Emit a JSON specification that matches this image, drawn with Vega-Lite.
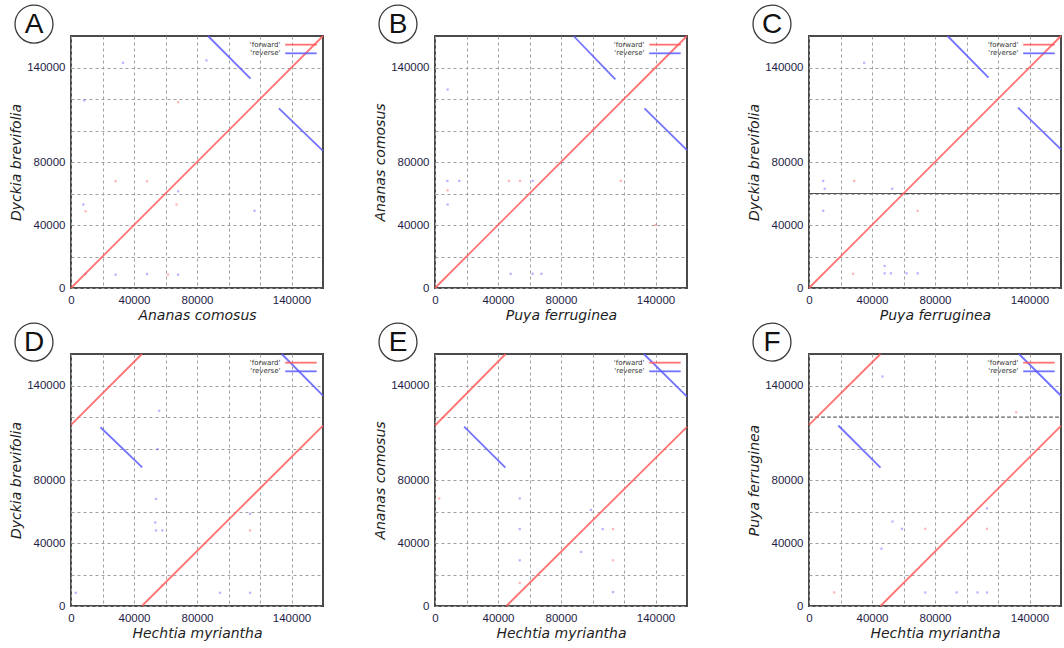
{
  "$schema": "https://vega.github.io/schema/vega-lite/v6.json",
  "autosize": {"type": "pad"},
  "padding": {"left": 8, "top": 1, "right": 0, "bottom": 0},
  "background": "white",
  "config": {
    "view": {"stroke": "#4a4a4a", "strokeWidth": 2},
    "axis": {
      "grid": true, "gridColor": "#a0a0a0", "gridDash": [3, 3], "gridWidth": 1,
      "domain": false, "ticks": false,
      "labelFont": "Liberation Sans", "labelFontSize": 11.5, "labelColor": "#1e1e46",
      "labelFlush": false, "labelOverlap": false, "labelPadding": 6,
      "titleFont": "DejaVu Sans", "titleFontSize": 14, "titleFontStyle": "italic", "titleFontWeight": "normal",
      "titleColor": "#1e1e1e", "titlePadding": 3
    }
  },
  "datasets": {
    "lines": [
      {"panel": "A", "seg": "f1", "strand": "forward", "x": 0, "y": 0},
      {"panel": "A", "seg": "f1", "strand": "forward", "x": 160000, "y": 160000},
      {"panel": "A", "seg": "r1", "strand": "reverse", "x": 87000, "y": 160000},
      {"panel": "A", "seg": "r1", "strand": "reverse", "x": 114000, "y": 133000},
      {"panel": "A", "seg": "r2", "strand": "reverse", "x": 132000, "y": 114000},
      {"panel": "A", "seg": "r2", "strand": "reverse", "x": 160000, "y": 87000},
      {"panel": "B", "seg": "f1", "strand": "forward", "x": 0, "y": 0},
      {"panel": "B", "seg": "f1", "strand": "forward", "x": 160000, "y": 160000},
      {"panel": "B", "seg": "r1", "strand": "reverse", "x": 88000, "y": 160000},
      {"panel": "B", "seg": "r1", "strand": "reverse", "x": 114500, "y": 132500},
      {"panel": "B", "seg": "r2", "strand": "reverse", "x": 133000, "y": 114000},
      {"panel": "B", "seg": "r2", "strand": "reverse", "x": 160000, "y": 87500},
      {"panel": "C", "seg": "f1", "strand": "forward", "x": 0, "y": 0},
      {"panel": "C", "seg": "f1", "strand": "forward", "x": 160000, "y": 160000},
      {"panel": "C", "seg": "r1", "strand": "reverse", "x": 88000, "y": 160000},
      {"panel": "C", "seg": "r1", "strand": "reverse", "x": 114000, "y": 133500},
      {"panel": "C", "seg": "r2", "strand": "reverse", "x": 132700, "y": 114500},
      {"panel": "C", "seg": "r2", "strand": "reverse", "x": 160000, "y": 88000},
      {"panel": "D", "seg": "f1", "strand": "forward", "x": 0, "y": 115000},
      {"panel": "D", "seg": "f1", "strand": "forward", "x": 45000, "y": 160000},
      {"panel": "D", "seg": "f2", "strand": "forward", "x": 45000, "y": 0},
      {"panel": "D", "seg": "f2", "strand": "forward", "x": 160000, "y": 114500},
      {"panel": "D", "seg": "r1", "strand": "reverse", "x": 18700, "y": 113500},
      {"panel": "D", "seg": "r1", "strand": "reverse", "x": 45200, "y": 88000},
      {"panel": "D", "seg": "r2", "strand": "reverse", "x": 133800, "y": 160000},
      {"panel": "D", "seg": "r2", "strand": "reverse", "x": 160000, "y": 133500},
      {"panel": "E", "seg": "f1", "strand": "forward", "x": 0, "y": 114600},
      {"panel": "E", "seg": "f1", "strand": "forward", "x": 44800, "y": 160000},
      {"panel": "E", "seg": "f2", "strand": "forward", "x": 45300, "y": 0},
      {"panel": "E", "seg": "f2", "strand": "forward", "x": 160000, "y": 113800},
      {"panel": "E", "seg": "r1", "strand": "reverse", "x": 18500, "y": 113900},
      {"panel": "E", "seg": "r1", "strand": "reverse", "x": 44700, "y": 87900},
      {"panel": "E", "seg": "r2", "strand": "reverse", "x": 132600, "y": 160000},
      {"panel": "E", "seg": "r2", "strand": "reverse", "x": 160000, "y": 133000},
      {"panel": "F", "seg": "f1", "strand": "forward", "x": 0, "y": 115000},
      {"panel": "F", "seg": "f1", "strand": "forward", "x": 45400, "y": 160000},
      {"panel": "F", "seg": "f2", "strand": "forward", "x": 45400, "y": 0},
      {"panel": "F", "seg": "f2", "strand": "forward", "x": 160000, "y": 114400},
      {"panel": "F", "seg": "r1", "strand": "reverse", "x": 18600, "y": 114600},
      {"panel": "F", "seg": "r1", "strand": "reverse", "x": 45400, "y": 87900},
      {"panel": "F", "seg": "r2", "strand": "reverse", "x": 133300, "y": 160000},
      {"panel": "F", "seg": "r2", "strand": "reverse", "x": 160000, "y": 133500}
    ],
    "dots": [
      {"panel": "A", "strand": "reverse", "x": 9300, "y": 8900},
      {"panel": "A", "strand": "reverse", "x": 28300, "y": 8500},
      {"panel": "A", "strand": "reverse", "x": 48300, "y": 8900},
      {"panel": "A", "strand": "reverse", "x": 68000, "y": 8500},
      {"panel": "A", "strand": "forward", "x": 61600, "y": 8500},
      {"panel": "A", "strand": "reverse", "x": 7800, "y": 53000},
      {"panel": "A", "strand": "forward", "x": 9300, "y": 48700},
      {"panel": "A", "strand": "forward", "x": 28300, "y": 67800},
      {"panel": "A", "strand": "forward", "x": 48300, "y": 67800},
      {"panel": "A", "strand": "reverse", "x": 68000, "y": 61400},
      {"panel": "A", "strand": "forward", "x": 67000, "y": 53000},
      {"panel": "A", "strand": "reverse", "x": 8400, "y": 119000},
      {"panel": "A", "strand": "forward", "x": 68000, "y": 118000},
      {"panel": "A", "strand": "reverse", "x": 116500, "y": 49000},
      {"panel": "A", "strand": "reverse", "x": 86000, "y": 144500},
      {"panel": "A", "strand": "reverse", "x": 33000, "y": 143000},
      {"panel": "B", "strand": "reverse", "x": 7900, "y": 68000},
      {"panel": "B", "strand": "reverse", "x": 15400, "y": 68000},
      {"panel": "B", "strand": "forward", "x": 47000, "y": 68000},
      {"panel": "B", "strand": "forward", "x": 54000, "y": 68000},
      {"panel": "B", "strand": "reverse", "x": 62000, "y": 68000},
      {"panel": "B", "strand": "forward", "x": 118000, "y": 68000},
      {"panel": "B", "strand": "reverse", "x": 48000, "y": 9000},
      {"panel": "B", "strand": "reverse", "x": 62000, "y": 9000},
      {"panel": "B", "strand": "reverse", "x": 67600, "y": 9000},
      {"panel": "B", "strand": "forward", "x": 8000, "y": 62000},
      {"panel": "B", "strand": "reverse", "x": 8000, "y": 53000},
      {"panel": "B", "strand": "reverse", "x": 8000, "y": 126000},
      {"panel": "B", "strand": "forward", "x": 140000, "y": 40000},
      {"panel": "C", "strand": "reverse", "x": 9000, "y": 68000},
      {"panel": "C", "strand": "reverse", "x": 9000, "y": 49000},
      {"panel": "C", "strand": "reverse", "x": 10000, "y": 63000},
      {"panel": "C", "strand": "forward", "x": 28700, "y": 68000},
      {"panel": "C", "strand": "reverse", "x": 52800, "y": 63000},
      {"panel": "C", "strand": "forward", "x": 69000, "y": 49000},
      {"panel": "C", "strand": "reverse", "x": 48000, "y": 9300},
      {"panel": "C", "strand": "reverse", "x": 52000, "y": 9300},
      {"panel": "C", "strand": "reverse", "x": 62000, "y": 9300},
      {"panel": "C", "strand": "reverse", "x": 69000, "y": 9300},
      {"panel": "C", "strand": "reverse", "x": 48000, "y": 14000},
      {"panel": "C", "strand": "forward", "x": 28000, "y": 9000},
      {"panel": "C", "strand": "reverse", "x": 35000, "y": 143000},
      {"panel": "D", "strand": "reverse", "x": 54000, "y": 48000},
      {"panel": "D", "strand": "reverse", "x": 58000, "y": 48000},
      {"panel": "D", "strand": "reverse", "x": 53500, "y": 53000},
      {"panel": "D", "strand": "reverse", "x": 54000, "y": 68000},
      {"panel": "D", "strand": "reverse", "x": 113700, "y": 58500},
      {"panel": "D", "strand": "forward", "x": 113700, "y": 48000},
      {"panel": "D", "strand": "reverse", "x": 113700, "y": 8400},
      {"panel": "D", "strand": "reverse", "x": 94600, "y": 8400},
      {"panel": "D", "strand": "reverse", "x": 3000, "y": 8400},
      {"panel": "D", "strand": "forward", "x": 58000, "y": 13000},
      {"panel": "D", "strand": "reverse", "x": 55000, "y": 99600},
      {"panel": "D", "strand": "reverse", "x": 56000, "y": 124000},
      {"panel": "E", "strand": "reverse", "x": 53800, "y": 68300},
      {"panel": "E", "strand": "reverse", "x": 53800, "y": 48800},
      {"panel": "E", "strand": "reverse", "x": 53800, "y": 29000},
      {"panel": "E", "strand": "reverse", "x": 92800, "y": 34300},
      {"panel": "E", "strand": "forward", "x": 113000, "y": 48800},
      {"panel": "E", "strand": "forward", "x": 113000, "y": 29000},
      {"panel": "E", "strand": "reverse", "x": 113000, "y": 8800},
      {"panel": "E", "strand": "forward", "x": 53800, "y": 14700},
      {"panel": "E", "strand": "reverse", "x": 99000, "y": 61000},
      {"panel": "E", "strand": "forward", "x": 2700, "y": 68300},
      {"panel": "E", "strand": "reverse", "x": 106500, "y": 48800},
      {"panel": "F", "strand": "reverse", "x": 53000, "y": 53600},
      {"panel": "F", "strand": "reverse", "x": 59000, "y": 49000},
      {"panel": "F", "strand": "forward", "x": 73800, "y": 49000},
      {"panel": "F", "strand": "reverse", "x": 113000, "y": 62000},
      {"panel": "F", "strand": "forward", "x": 113000, "y": 49000},
      {"panel": "F", "strand": "reverse", "x": 107000, "y": 8600},
      {"panel": "F", "strand": "reverse", "x": 113000, "y": 8600},
      {"panel": "F", "strand": "reverse", "x": 93700, "y": 8600},
      {"panel": "F", "strand": "reverse", "x": 73800, "y": 8600},
      {"panel": "F", "strand": "forward", "x": 16000, "y": 8600},
      {"panel": "F", "strand": "reverse", "x": 46000, "y": 36400},
      {"panel": "F", "strand": "reverse", "x": 46600, "y": 145700},
      {"panel": "F", "strand": "forward", "x": 131600, "y": 123000}
    ]
  },
  "spacing": 44,
  "hconcat": [
    {
      "spacing": 66, "bounds": "flush",
      "vconcat": [
        {
          "width": 252, "height": 252,
          "encoding": {
            "x": {"type": "quantitative", "scale": {"domain": [0, 160000], "nice": false, "zero": false}, "axis": {"title": "Ananas comosus", "format": "d", "values": [0, 20000, 40000, 60000, 80000, 100000, 120000, 140000], "labelExpr": "datum.value == 0 || datum.value == 40000 || datum.value == 80000 || datum.value == 140000 ? datum.label : ''"}},
            "y": {"type": "quantitative", "scale": {"domain": [0, 160000], "nice": false, "zero": false}, "axis": {"title": "Dyckia brevifolia", "format": "d", "values": [0, 20000, 40000, 60000, 80000, 100000, 120000, 140000], "labelExpr": "datum.value == 0 || datum.value == 40000 || datum.value == 80000 || datum.value == 140000 ? datum.label : ''"}}
          },
          "layer": [
            {"data": {"name": "dots"}, "transform": [{"filter": "datum.panel == 'A'"}],
             "mark": {"type": "square", "size": 5, "opacity": 0.45},
             "encoding": {"x": {"field": "x"}, "y": {"field": "y"},
               "color": {"field": "strand", "type": "nominal", "scale": {"domain": ["forward", "reverse"], "range": ["#ff5a5a", "#5a5aff"]}, "legend": null}}},
            {"data": {"name": "lines"}, "transform": [{"filter": "datum.panel == 'A'"}],
             "mark": {"type": "line", "strokeWidth": 1.8, "opacity": 0.85},
             "encoding": {"x": {"field": "x"}, "y": {"field": "y"}, "detail": {"field": "seg"},
               "color": {"field": "strand", "type": "nominal", "scale": {"domain": ["forward", "reverse"], "range": ["#ff5a5a", "#5a5aff"]}, "legend": null}}},
            {"data": {"values": [{"label": "'forward'"}]}, "mark": {"type": "text", "align": "right", "baseline": "middle", "fontSize": 7, "font": "DejaVu Sans", "color": "#333333"},
             "encoding": {"x": {"datum": 133000}, "y": {"datum": 154500}, "text": {"field": "label"}}},
            {"data": {"values": [{"label": "'reverse'"}]}, "mark": {"type": "text", "align": "right", "baseline": "middle", "fontSize": 7, "font": "DejaVu Sans", "color": "#333333"},
             "encoding": {"x": {"datum": 133000}, "y": {"datum": 149000}, "text": {"field": "label"}}},
            {"data": {"values": [{"strand": "forward"}]}, "mark": {"type": "rule", "color": "#ff5a5a", "strokeWidth": 1.8, "opacity": 0.85},
             "encoding": {"x": {"datum": 136000}, "x2": {"datum": 156000}, "y": {"datum": 154500}}},
            {"data": {"values": [{"strand": "reverse"}]}, "mark": {"type": "rule", "color": "#5a5aff", "strokeWidth": 1.8, "opacity": 0.85},
             "encoding": {"x": {"datum": 136000}, "x2": {"datum": 156000}, "y": {"datum": 149000}}},
            {"data": {"values": [{"letter": "A"}]}, "mark": {"type": "point", "shape": "circle", "filled": false, "size": 1444, "stroke": "#3a3a3a", "strokeWidth": 1.3, "opacity": 1},
             "encoding": {"x": {"datum": -23500}, "y": {"datum": 167600}}},
            {"data": {"values": [{"letter": "A"}]}, "mark": {"type": "text", "align": "center", "baseline": "middle", "fontSize": 28, "font": "Liberation Sans", "color": "#111111", "dy": 1},
             "encoding": {"x": {"datum": -23500}, "y": {"datum": 167600}, "text": {"field": "letter"}}}
          ]
        },
        {
          "width": 252, "height": 252,
          "encoding": {
            "x": {"type": "quantitative", "scale": {"domain": [0, 160000], "nice": false, "zero": false}, "axis": {"title": "Hechtia myriantha", "format": "d", "values": [0, 20000, 40000, 60000, 80000, 100000, 120000, 140000], "labelExpr": "datum.value == 0 || datum.value == 40000 || datum.value == 80000 || datum.value == 140000 ? datum.label : ''"}},
            "y": {"type": "quantitative", "scale": {"domain": [0, 160000], "nice": false, "zero": false}, "axis": {"title": "Dyckia brevifolia", "format": "d", "values": [0, 20000, 40000, 60000, 80000, 100000, 120000, 140000], "labelExpr": "datum.value == 0 || datum.value == 40000 || datum.value == 80000 || datum.value == 140000 ? datum.label : ''"}}
          },
          "layer": [
            {"data": {"name": "dots"}, "transform": [{"filter": "datum.panel == 'D'"}],
             "mark": {"type": "square", "size": 5, "opacity": 0.45},
             "encoding": {"x": {"field": "x"}, "y": {"field": "y"},
               "color": {"field": "strand", "type": "nominal", "scale": {"domain": ["forward", "reverse"], "range": ["#ff5a5a", "#5a5aff"]}, "legend": null}}},
            {"data": {"name": "lines"}, "transform": [{"filter": "datum.panel == 'D'"}],
             "mark": {"type": "line", "strokeWidth": 1.8, "opacity": 0.85},
             "encoding": {"x": {"field": "x"}, "y": {"field": "y"}, "detail": {"field": "seg"},
               "color": {"field": "strand", "type": "nominal", "scale": {"domain": ["forward", "reverse"], "range": ["#ff5a5a", "#5a5aff"]}, "legend": null}}},
            {"data": {"values": [{"label": "'forward'"}]}, "mark": {"type": "text", "align": "right", "baseline": "middle", "fontSize": 7, "font": "DejaVu Sans", "color": "#333333"},
             "encoding": {"x": {"datum": 133000}, "y": {"datum": 154500}, "text": {"field": "label"}}},
            {"data": {"values": [{"label": "'reverse'"}]}, "mark": {"type": "text", "align": "right", "baseline": "middle", "fontSize": 7, "font": "DejaVu Sans", "color": "#333333"},
             "encoding": {"x": {"datum": 133000}, "y": {"datum": 149000}, "text": {"field": "label"}}},
            {"data": {"values": [{"strand": "forward"}]}, "mark": {"type": "rule", "color": "#ff5a5a", "strokeWidth": 1.8, "opacity": 0.85},
             "encoding": {"x": {"datum": 136000}, "x2": {"datum": 156000}, "y": {"datum": 154500}}},
            {"data": {"values": [{"strand": "reverse"}]}, "mark": {"type": "rule", "color": "#5a5aff", "strokeWidth": 1.8, "opacity": 0.85},
             "encoding": {"x": {"datum": 136000}, "x2": {"datum": 156000}, "y": {"datum": 149000}}},
            {"data": {"values": [{"letter": "D"}]}, "mark": {"type": "point", "shape": "circle", "filled": false, "size": 1444, "stroke": "#3a3a3a", "strokeWidth": 1.3, "opacity": 1},
             "encoding": {"x": {"datum": -23500}, "y": {"datum": 167600}}},
            {"data": {"values": [{"letter": "D"}]}, "mark": {"type": "text", "align": "center", "baseline": "middle", "fontSize": 28, "font": "Liberation Sans", "color": "#111111", "dy": 1},
             "encoding": {"x": {"datum": -23500}, "y": {"datum": 167600}, "text": {"field": "letter"}}}
          ]
        }
      ]
    },
    {
      "spacing": 54,
      "hconcat": [
        {
          "spacing": 66, "bounds": "flush",
          "vconcat": [
            {
              "width": 252, "height": 252,
              "encoding": {
                "x": {"type": "quantitative", "scale": {"domain": [0, 160000], "nice": false, "zero": false}, "axis": {"title": "Puya ferruginea", "format": "d", "values": [0, 20000, 40000, 60000, 80000, 100000, 120000, 140000], "labelExpr": "datum.value == 0 || datum.value == 40000 || datum.value == 80000 || datum.value == 140000 ? datum.label : ''"}},
                "y": {"type": "quantitative", "scale": {"domain": [0, 160000], "nice": false, "zero": false}, "axis": {"title": "Ananas comosus", "format": "d", "values": [0, 20000, 40000, 60000, 80000, 100000, 120000, 140000], "labelExpr": "datum.value == 0 || datum.value == 40000 || datum.value == 80000 || datum.value == 140000 ? datum.label : ''"}}
              },
              "layer": [
                {"data": {"name": "dots"}, "transform": [{"filter": "datum.panel == 'B'"}],
                 "mark": {"type": "square", "size": 5, "opacity": 0.45},
                 "encoding": {"x": {"field": "x"}, "y": {"field": "y"},
                   "color": {"field": "strand", "type": "nominal", "scale": {"domain": ["forward", "reverse"], "range": ["#ff5a5a", "#5a5aff"]}, "legend": null}}},
                {"data": {"name": "lines"}, "transform": [{"filter": "datum.panel == 'B'"}],
                 "mark": {"type": "line", "strokeWidth": 1.8, "opacity": 0.85},
                 "encoding": {"x": {"field": "x"}, "y": {"field": "y"}, "detail": {"field": "seg"},
                   "color": {"field": "strand", "type": "nominal", "scale": {"domain": ["forward", "reverse"], "range": ["#ff5a5a", "#5a5aff"]}, "legend": null}}},
                {"data": {"values": [{"label": "'forward'"}]}, "mark": {"type": "text", "align": "right", "baseline": "middle", "fontSize": 7, "font": "DejaVu Sans", "color": "#333333"},
                 "encoding": {"x": {"datum": 133000}, "y": {"datum": 154500}, "text": {"field": "label"}}},
                {"data": {"values": [{"label": "'reverse'"}]}, "mark": {"type": "text", "align": "right", "baseline": "middle", "fontSize": 7, "font": "DejaVu Sans", "color": "#333333"},
                 "encoding": {"x": {"datum": 133000}, "y": {"datum": 149000}, "text": {"field": "label"}}},
                {"data": {"values": [{"strand": "forward"}]}, "mark": {"type": "rule", "color": "#ff5a5a", "strokeWidth": 1.8, "opacity": 0.85},
                 "encoding": {"x": {"datum": 136000}, "x2": {"datum": 156000}, "y": {"datum": 154500}}},
                {"data": {"values": [{"strand": "reverse"}]}, "mark": {"type": "rule", "color": "#5a5aff", "strokeWidth": 1.8, "opacity": 0.85},
                 "encoding": {"x": {"datum": 136000}, "x2": {"datum": 156000}, "y": {"datum": 149000}}},
                {"data": {"values": [{"letter": "B"}]}, "mark": {"type": "point", "shape": "circle", "filled": false, "size": 1444, "stroke": "#3a3a3a", "strokeWidth": 1.3, "opacity": 1},
                 "encoding": {"x": {"datum": -23500}, "y": {"datum": 167600}}},
                {"data": {"values": [{"letter": "B"}]}, "mark": {"type": "text", "align": "center", "baseline": "middle", "fontSize": 28, "font": "Liberation Sans", "color": "#111111", "dy": 1},
                 "encoding": {"x": {"datum": -23500}, "y": {"datum": 167600}, "text": {"field": "letter"}}}
              ]
            },
            {
              "width": 252, "height": 252,
              "encoding": {
                "x": {"type": "quantitative", "scale": {"domain": [0, 160000], "nice": false, "zero": false}, "axis": {"title": "Hechtia myriantha", "format": "d", "values": [0, 20000, 40000, 60000, 80000, 100000, 120000, 140000], "labelExpr": "datum.value == 0 || datum.value == 40000 || datum.value == 80000 || datum.value == 140000 ? datum.label : ''"}},
                "y": {"type": "quantitative", "scale": {"domain": [0, 160000], "nice": false, "zero": false}, "axis": {"title": "Ananas comosus", "format": "d", "values": [0, 20000, 40000, 60000, 80000, 100000, 120000, 140000], "labelExpr": "datum.value == 0 || datum.value == 40000 || datum.value == 80000 || datum.value == 140000 ? datum.label : ''"}}
              },
              "layer": [
                {"data": {"name": "dots"}, "transform": [{"filter": "datum.panel == 'E'"}],
                 "mark": {"type": "square", "size": 5, "opacity": 0.45},
                 "encoding": {"x": {"field": "x"}, "y": {"field": "y"},
                   "color": {"field": "strand", "type": "nominal", "scale": {"domain": ["forward", "reverse"], "range": ["#ff5a5a", "#5a5aff"]}, "legend": null}}},
                {"data": {"name": "lines"}, "transform": [{"filter": "datum.panel == 'E'"}],
                 "mark": {"type": "line", "strokeWidth": 1.8, "opacity": 0.85},
                 "encoding": {"x": {"field": "x"}, "y": {"field": "y"}, "detail": {"field": "seg"},
                   "color": {"field": "strand", "type": "nominal", "scale": {"domain": ["forward", "reverse"], "range": ["#ff5a5a", "#5a5aff"]}, "legend": null}}},
                {"data": {"values": [{"label": "'forward'"}]}, "mark": {"type": "text", "align": "right", "baseline": "middle", "fontSize": 7, "font": "DejaVu Sans", "color": "#333333"},
                 "encoding": {"x": {"datum": 133000}, "y": {"datum": 154500}, "text": {"field": "label"}}},
                {"data": {"values": [{"label": "'reverse'"}]}, "mark": {"type": "text", "align": "right", "baseline": "middle", "fontSize": 7, "font": "DejaVu Sans", "color": "#333333"},
                 "encoding": {"x": {"datum": 133000}, "y": {"datum": 149000}, "text": {"field": "label"}}},
                {"data": {"values": [{"strand": "forward"}]}, "mark": {"type": "rule", "color": "#ff5a5a", "strokeWidth": 1.8, "opacity": 0.85},
                 "encoding": {"x": {"datum": 136000}, "x2": {"datum": 156000}, "y": {"datum": 154500}}},
                {"data": {"values": [{"strand": "reverse"}]}, "mark": {"type": "rule", "color": "#5a5aff", "strokeWidth": 1.8, "opacity": 0.85},
                 "encoding": {"x": {"datum": 136000}, "x2": {"datum": 156000}, "y": {"datum": 149000}}},
                {"data": {"values": [{"letter": "E"}]}, "mark": {"type": "point", "shape": "circle", "filled": false, "size": 1444, "stroke": "#3a3a3a", "strokeWidth": 1.3, "opacity": 1},
                 "encoding": {"x": {"datum": -23500}, "y": {"datum": 167600}}},
                {"data": {"values": [{"letter": "E"}]}, "mark": {"type": "text", "align": "center", "baseline": "middle", "fontSize": 28, "font": "Liberation Sans", "color": "#111111", "dy": 1},
                 "encoding": {"x": {"datum": -23500}, "y": {"datum": 167600}, "text": {"field": "letter"}}}
              ]
            }
          ]
        },
        {
          "spacing": 66, "bounds": "flush",
          "vconcat": [
            {
              "width": 252, "height": 252,
              "encoding": {
                "x": {"type": "quantitative", "scale": {"domain": [0, 160000], "nice": false, "zero": false}, "axis": {"title": "Puya ferruginea", "format": "d", "values": [0, 20000, 40000, 60000, 80000, 100000, 120000, 140000], "labelExpr": "datum.value == 0 || datum.value == 40000 || datum.value == 80000 || datum.value == 140000 ? datum.label : ''"}},
                "y": {"type": "quantitative", "scale": {"domain": [0, 160000], "nice": false, "zero": false}, "axis": {"title": "Dyckia brevifolia", "format": "d", "values": [0, 20000, 40000, 60000, 80000, 100000, 120000, 140000], "labelExpr": "datum.value == 0 || datum.value == 40000 || datum.value == 80000 || datum.value == 140000 ? datum.label : ''"}}
              },
              "layer": [
                {"data": {"name": "dots"}, "transform": [{"filter": "datum.panel == 'C'"}],
                 "mark": {"type": "square", "size": 5, "opacity": 0.45},
                 "encoding": {"x": {"field": "x"}, "y": {"field": "y"},
                   "color": {"field": "strand", "type": "nominal", "scale": {"domain": ["forward", "reverse"], "range": ["#ff5a5a", "#5a5aff"]}, "legend": null}}},
                {"data": {"values": [{"kind": "line"}]}, "mark": {"type": "rule", "color": "#555555", "strokeWidth": 1},
                 "encoding": {"x": {"datum": 0}, "x2": {"datum": 160000}, "y": {"datum": 60000}}},
                {"data": {"name": "lines"}, "transform": [{"filter": "datum.panel == 'C'"}],
                 "mark": {"type": "line", "strokeWidth": 1.8, "opacity": 0.85},
                 "encoding": {"x": {"field": "x"}, "y": {"field": "y"}, "detail": {"field": "seg"},
                   "color": {"field": "strand", "type": "nominal", "scale": {"domain": ["forward", "reverse"], "range": ["#ff5a5a", "#5a5aff"]}, "legend": null}}},
                {"data": {"values": [{"label": "'forward'"}]}, "mark": {"type": "text", "align": "right", "baseline": "middle", "fontSize": 7, "font": "DejaVu Sans", "color": "#333333"},
                 "encoding": {"x": {"datum": 133000}, "y": {"datum": 154500}, "text": {"field": "label"}}},
                {"data": {"values": [{"label": "'reverse'"}]}, "mark": {"type": "text", "align": "right", "baseline": "middle", "fontSize": 7, "font": "DejaVu Sans", "color": "#333333"},
                 "encoding": {"x": {"datum": 133000}, "y": {"datum": 149000}, "text": {"field": "label"}}},
                {"data": {"values": [{"strand": "forward"}]}, "mark": {"type": "rule", "color": "#ff5a5a", "strokeWidth": 1.8, "opacity": 0.85},
                 "encoding": {"x": {"datum": 136000}, "x2": {"datum": 156000}, "y": {"datum": 154500}}},
                {"data": {"values": [{"strand": "reverse"}]}, "mark": {"type": "rule", "color": "#5a5aff", "strokeWidth": 1.8, "opacity": 0.85},
                 "encoding": {"x": {"datum": 136000}, "x2": {"datum": 156000}, "y": {"datum": 149000}}},
                {"data": {"values": [{"letter": "C"}]}, "mark": {"type": "point", "shape": "circle", "filled": false, "size": 1444, "stroke": "#3a3a3a", "strokeWidth": 1.3, "opacity": 1},
                 "encoding": {"x": {"datum": -23500}, "y": {"datum": 167600}}},
                {"data": {"values": [{"letter": "C"}]}, "mark": {"type": "text", "align": "center", "baseline": "middle", "fontSize": 28, "font": "Liberation Sans", "color": "#111111", "dy": 1},
                 "encoding": {"x": {"datum": -23500}, "y": {"datum": 167600}, "text": {"field": "letter"}}}
              ]
            },
            {
              "width": 252, "height": 252,
              "encoding": {
                "x": {"type": "quantitative", "scale": {"domain": [0, 160000], "nice": false, "zero": false}, "axis": {"title": "Hechtia myriantha", "format": "d", "values": [0, 20000, 40000, 60000, 80000, 100000, 120000, 140000], "labelExpr": "datum.value == 0 || datum.value == 40000 || datum.value == 80000 || datum.value == 140000 ? datum.label : ''"}},
                "y": {"type": "quantitative", "scale": {"domain": [0, 160000], "nice": false, "zero": false}, "axis": {"title": "Puya ferruginea", "format": "d", "values": [0, 20000, 40000, 60000, 80000, 100000, 120000, 140000], "labelExpr": "datum.value == 0 || datum.value == 40000 || datum.value == 80000 || datum.value == 140000 ? datum.label : ''"}}
              },
              "layer": [
                {"data": {"name": "dots"}, "transform": [{"filter": "datum.panel == 'F'"}],
                 "mark": {"type": "square", "size": 5, "opacity": 0.45},
                 "encoding": {"x": {"field": "x"}, "y": {"field": "y"},
                   "color": {"field": "strand", "type": "nominal", "scale": {"domain": ["forward", "reverse"], "range": ["#ff5a5a", "#5a5aff"]}, "legend": null}}},
                {"data": {"values": [{"kind": "line"}]}, "mark": {"type": "rule", "color": "#666666", "strokeWidth": 1, "strokeDash": [4, 2]},
                 "encoding": {"x": {"datum": 0}, "x2": {"datum": 160000}, "y": {"datum": 120000}}},
                {"data": {"name": "lines"}, "transform": [{"filter": "datum.panel == 'F'"}],
                 "mark": {"type": "line", "strokeWidth": 1.8, "opacity": 0.85},
                 "encoding": {"x": {"field": "x"}, "y": {"field": "y"}, "detail": {"field": "seg"},
                   "color": {"field": "strand", "type": "nominal", "scale": {"domain": ["forward", "reverse"], "range": ["#ff5a5a", "#5a5aff"]}, "legend": null}}},
                {"data": {"values": [{"label": "'forward'"}]}, "mark": {"type": "text", "align": "right", "baseline": "middle", "fontSize": 7, "font": "DejaVu Sans", "color": "#333333"},
                 "encoding": {"x": {"datum": 133000}, "y": {"datum": 154500}, "text": {"field": "label"}}},
                {"data": {"values": [{"label": "'reverse'"}]}, "mark": {"type": "text", "align": "right", "baseline": "middle", "fontSize": 7, "font": "DejaVu Sans", "color": "#333333"},
                 "encoding": {"x": {"datum": 133000}, "y": {"datum": 149000}, "text": {"field": "label"}}},
                {"data": {"values": [{"strand": "forward"}]}, "mark": {"type": "rule", "color": "#ff5a5a", "strokeWidth": 1.8, "opacity": 0.85},
                 "encoding": {"x": {"datum": 136000}, "x2": {"datum": 156000}, "y": {"datum": 154500}}},
                {"data": {"values": [{"strand": "reverse"}]}, "mark": {"type": "rule", "color": "#5a5aff", "strokeWidth": 1.8, "opacity": 0.85},
                 "encoding": {"x": {"datum": 136000}, "x2": {"datum": 156000}, "y": {"datum": 149000}}},
                {"data": {"values": [{"letter": "F"}]}, "mark": {"type": "point", "shape": "circle", "filled": false, "size": 1444, "stroke": "#3a3a3a", "strokeWidth": 1.3, "opacity": 1},
                 "encoding": {"x": {"datum": -23500}, "y": {"datum": 167600}}},
                {"data": {"values": [{"letter": "F"}]}, "mark": {"type": "text", "align": "center", "baseline": "middle", "fontSize": 28, "font": "Liberation Sans", "color": "#111111", "dy": 1},
                 "encoding": {"x": {"datum": -23500}, "y": {"datum": 167600}, "text": {"field": "letter"}}}
              ]
            }
          ]
        }
      ]
    }
  ]
}
